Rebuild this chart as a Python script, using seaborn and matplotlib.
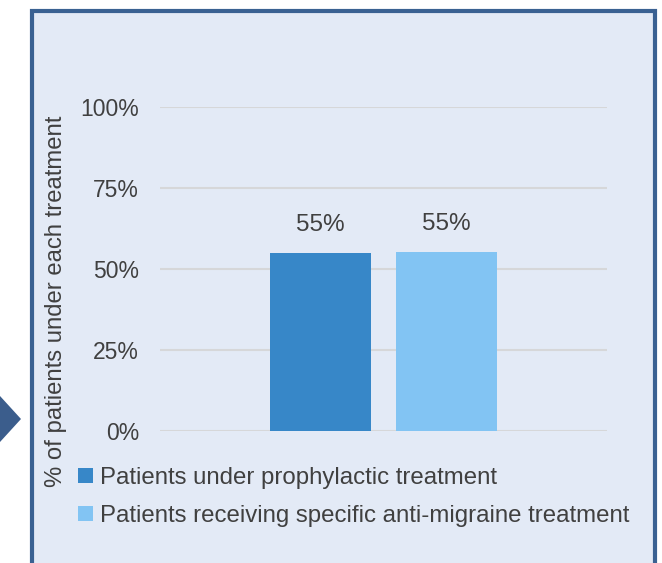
import matplotlib
matplotlib.use("Agg")
import matplotlib.pyplot as plt
from matplotlib.patches import Rectangle, Polygon
from matplotlib.ticker import PercentFormatter
import seaborn as sns
import pandas as pd

# data
groups = ["All patients", "All patients"]
series = ["Patients under prophylactic treatment",
          "Patients receiving specific anti-migraine treatment"]
values = [0.549, 0.552]
labels = ["55%", "55%"]
colors = ["#3787C8", "#82C4F3"]

yticks = [0, 0.25, 0.5, 0.75, 1.0]

sns.set_style("white")
plt.rcParams["font.family"] = ["Liberation Sans", "DejaVu Sans"]
text_color = "#404040"
bg = "#E3EAF6"

df = pd.DataFrame({"group": groups, "series": series, "value": values})

W, H = 662, 563
fig = plt.figure(figsize=(W / 100, H / 100), dpi=100, facecolor="white")

# framed panel and the arrow on the left
fig.add_artist(Rectangle((31.5 / W, -0.1), (655 - 31.5) / W, 1.1 - 11 / H,
                         transform=fig.transFigure, facecolor=bg,
                         edgecolor="#3A6192", lw=3, zorder=-2))
fig.add_artist(Polygon([(0, 1 - 396 / H), (21 / W, 1 - 419 / H), (0, 1 - 442 / H)],
                       closed=True, transform=fig.transFigure,
                       facecolor="#3B5D8C", edgecolor="none", zorder=-1))

ax = fig.add_axes([160 / W, 1 - 431 / H, 447 / W, 324 / H])
ax.set_facecolor("none")

sns.barplot(data=df, x="group", y="value", hue="series", palette=colors,
            saturation=1, width=0.564, gap=0.2, ax=ax, zorder=3,
            edgecolor="none", linewidth=0)

for cont, lab in zip(ax.containers, labels):
    ax.bar_label(cont, labels=[lab], padding=12, fontsize=17.5, color=text_color)

ax.set_ylim(0, 1)
ax.set_xlim(-0.5, 0.5)
ax.set_yticks(yticks)
ax.yaxis.set_major_formatter(PercentFormatter(1.0, decimals=0))
ax.grid(axis="y", color="#D6D7D9", lw=1.5, zorder=0)
ax.set_axisbelow(True)
for s in ax.spines.values():
    s.set_visible(False)
ax.tick_params(axis="y", length=0, pad=15, labelsize=16.5, labelcolor=text_color)
ax.set_xticks([])
ax.set_xlabel("")
ax.set_ylabel("% of patients under each treatment", fontsize=17.2, color=text_color)
ax.yaxis.set_label_coords(-0.208, 0.40)

handles, hlabels = ax.get_legend_handles_labels()
ax.legend(handles, hlabels, loc="upper left", bbox_to_anchor=(78 / W, 1 - 467 / H),
          bbox_transform=fig.transFigure, frameon=False, fontsize=17.3,
          handlelength=0.62, handleheight=0.62, handletextpad=0.3,
          labelspacing=0.66, borderpad=0, borderaxespad=0, labelcolor=text_color)

fig.savefig("out.png", dpi=100, facecolor="white")
